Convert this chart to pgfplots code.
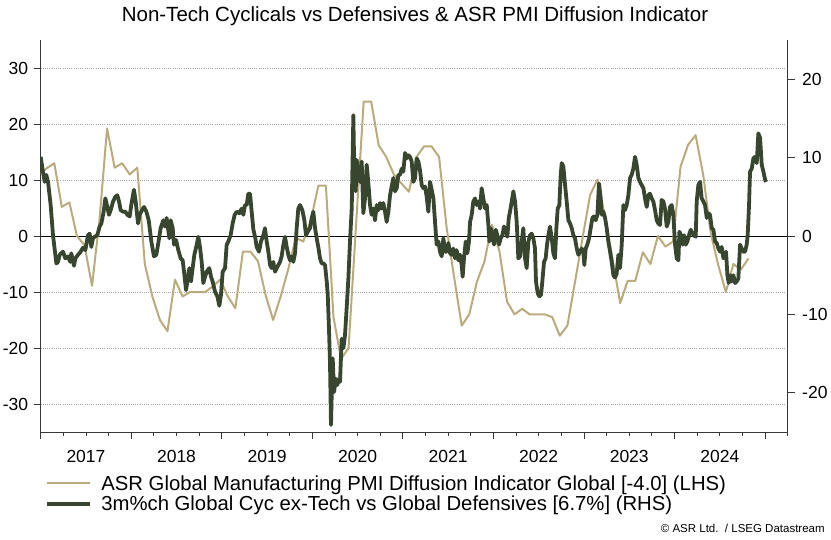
\documentclass[border=0pt]{standalone}
\usepackage{fontspec}
\setmainfont{Liberation Sans}
\usepackage{pgfplots}
\pgfplotsset{compat=1.18}
\definecolor{tanc}{RGB}{186,170,124}
\definecolor{darkc}{RGB}{56,70,48}
\definecolor{axc}{RGB}{55,55,55}
\definecolor{gridc}{RGB}{165,165,165}
\begin{document}
\begin{tikzpicture}
\path[use as bounding box] (-40.7pt,-107pt) rectangle (790.3pt,432pt);
\begin{axis}[
  at={(0pt,0pt)}, anchor=south west,
  scale only axis, width=747pt, height=392pt,
  xmin=2017, xmax=2025.25, ymin=-35, ymax=35,
  axis x line*=bottom, axis y line*=left,
  axis line style={axc, line width=0.9pt, -},
  tick align=outside, major tick length=7pt, minor tick length=4pt,
  tick style={axc, line width=0.8pt},
  xtick={2017,2018,...,2025}, xticklabels={},
  minor xtick={2017.25,2017.5,...,2025.25},
  extra x ticks={2017.5,2018.5,2019.5,2020.5,2021.5,2022.5,2023.5,2024.5},
  extra x tick labels={2017,2018,2019,2020,2021,2022,2023,2024},
  extra x tick style={major tick length=0pt, xticklabel style={yshift=-15pt}},
  ytick={-30,-20,...,30},
  ymajorgrids, grid style={gridc, dash pattern=on 1pt off 1.2pt, line width=0.7pt},
  ticklabel style={font=\fontsize{17.5}{20}\selectfont},
  /pgf/number format/assume math mode=true,
  yticklabel style={xshift=-2pt},
  legend style={at={(0.006,-0.105)}, anchor=north west, draw=none, fill=none,
    font=\fontsize{20.3}{22}\selectfont, inner sep=0pt, row sep=0pt, column sep=7pt,
    cells={anchor=west}},
  legend image code/.code={\draw[#1] (0pt,0pt) -- (43pt,0pt);},
  clip=true,
]
\draw[black, line width=0.9pt] (axis cs:2017,0) -- (axis cs:2025.25,0);
\addplot[tanc, line width=2pt, line join=round] coordinates {
(2017.000,11.2) (2017.067,12.1) (2017.150,13.0) (2017.233,5.2) (2017.317,6.0)
(2017.400,0.0) (2017.483,-1.6) (2017.567,-8.9) (2017.650,3.0) (2017.733,19.2)
(2017.817,12.2) (2017.900,13.0) (2017.983,11.0) (2018.067,12.2) (2018.150,-5.0)
(2018.233,-10.8) (2018.317,-15.0) (2018.400,-17.0) (2018.483,-7.8) (2018.567,-10.8)
(2018.650,-10.0) (2018.733,-10.0) (2018.817,-10.0) (2018.900,-9.0) (2018.983,-7.8)
(2019.067,-10.8) (2019.150,-12.9) (2019.233,-2.8) (2019.317,-2.8) (2019.400,-4.5)
(2019.483,-10.5) (2019.567,-15.0) (2019.650,-10.8) (2019.733,-6.0) (2019.817,-0.3)
(2019.900,-1.0) (2019.983,2.8) (2020.067,9.0) (2020.150,9.0) (2020.233,-14.4)
(2020.317,-22.0) (2020.400,-20.0) (2020.483,2.0) (2020.567,24.0) (2020.650,24.0)
(2020.733,16.2) (2020.817,14.1) (2020.900,11.0) (2020.983,9.4) (2021.067,7.9)
(2021.150,14.1) (2021.233,16.0) (2021.317,16.0) (2021.400,14.1) (2021.483,1.5)
(2021.567,-7.5) (2021.650,-16.0) (2021.733,-14.0) (2021.817,-8.2) (2021.900,-4.6)
(2021.983,2.0) (2022.067,-2.8) (2022.150,-11.7) (2022.233,-14.0) (2022.317,-13.0)
(2022.400,-14.0) (2022.483,-14.0) (2022.567,-14.0) (2022.650,-14.5) (2022.733,-17.8)
(2022.817,-16.0) (2022.900,-8.3) (2022.983,-0.5) (2023.067,7.3) (2023.150,10.1)
(2023.233,3.4) (2023.317,-4.2) (2023.400,-12.0) (2023.483,-8.0) (2023.567,-8.0)
(2023.650,-2.9) (2023.733,-5.0) (2023.817,0.0) (2023.900,-1.9) (2023.983,-1.0)
(2024.067,12.4) (2024.150,16.3) (2024.233,18.0) (2024.317,10.9) (2024.400,0.5)
(2024.483,-5.2) (2024.567,-10.0) (2024.650,-5.0) (2024.733,-6.0) (2024.817,-4.0)
};
\addlegendentry{ASR Global Manufacturing PMI Diffusion Indicator Global [-4.0] (LHS)}
\addlegendimage{darkc, line width=4pt}
\addlegendentry{3m\%ch Global Cyc ex-Tech vs Global Defensives [6.7\%] (RHS)}
\end{axis}
\begin{axis}[
  at={(0pt,0pt)}, anchor=south west,
  scale only axis, width=747pt, height=392pt,
  xmin=2017, xmax=2025.25, ymin=-25, ymax=25,
  axis y line*=right, axis x line=none,
  axis line style={axc, line width=0.9pt, -},
  tick align=outside, major tick length=7pt,
  tick style={axc, line width=0.8pt},
  ytick={-20,-10,...,20},
  ticklabel style={font=\fontsize{17.5}{20}\selectfont},
  /pgf/number format/assume math mode=true,
  yticklabel style={xshift=4pt},
]
\addplot[darkc, line width=3.8pt, line join=round] coordinates {
(2017.000,10.1) (2017.025,8.2) (2017.044,6.9) (2017.062,7.8) (2017.081,6.9)
(2017.110,3.95) (2017.136,0.1) (2017.173,-3.5) (2017.191,-3.3) (2017.210,-2.4)
(2017.246,-2.0) (2017.272,-2.85) (2017.300,-2.6) (2017.327,-3.3) (2017.338,-2.2)
(2017.368,-3.8) (2017.382,-2.85) (2017.412,-2.4) (2017.441,-2.0) (2017.467,-1.5)
(2017.493,-1.8) (2017.522,0.1) (2017.541,0.3) (2017.559,-1.4) (2017.578,-0.3)
(2017.596,-0.1) (2017.625,0.1) (2017.651,1.2) (2017.670,1.6) (2017.695,3.1)
(2017.714,4.8) (2017.736,3.7) (2017.754,2.7) (2017.773,3.3) (2017.799,4.4)
(2017.824,5.0) (2017.846,5.2) (2017.865,4.4) (2017.883,3.3) (2017.909,3.1)
(2017.935,3.1) (2017.957,2.7) (2017.983,2.5) (2018.000,3.95) (2018.030,5.9)
(2018.049,4.4) (2018.075,1.6) (2018.093,2.7) (2018.119,3.3) (2018.141,3.7)
(2018.167,3.1) (2018.193,2.0) (2018.222,-0.7) (2018.251,-2.6) (2018.277,-2.4)
(2018.296,-1.1) (2018.325,1.0) (2018.354,2.0) (2018.373,1.2) (2018.391,2.3)
(2018.421,-0.3) (2018.436,2.0) (2018.458,1.0) (2018.472,-1.1) (2018.494,-0.5)
(2018.520,-1.8) (2018.546,-2.85) (2018.568,-3.1) (2018.583,-4.55) (2018.605,-6.9)
(2018.623,-5.6) (2018.642,-4.1) (2018.660,-5.8) (2018.678,-4.1) (2018.697,-2.4)
(2018.723,-1.1) (2018.741,-0.1) (2018.759,-1.4) (2018.778,-3.3) (2018.796,-6.0)
(2018.815,-5.2) (2018.833,-4.55) (2018.862,-4.1) (2018.881,-5.2) (2018.899,-5.8)
(2018.925,-7.1) (2018.951,-7.7) (2018.973,-8.9) (2018.991,-7.5) (2019.010,-4.55)
(2019.036,-4.1) (2019.054,-1.1) (2019.072,-0.7) (2019.098,0.1) (2019.120,1.6)
(2019.142,2.7) (2019.165,3.1) (2019.194,2.9) (2019.220,3.5) (2019.238,2.7)
(2019.256,3.95) (2019.275,3.95) (2019.293,5.4) (2019.312,5.4) (2019.330,3.1)
(2019.349,0.8) (2019.371,-0.3) (2019.385,-1.4) (2019.411,-2.0) (2019.433,-0.7)
(2019.459,0.1) (2019.477,1.0) (2019.496,-0.7) (2019.514,-2.0) (2019.533,-3.7)
(2019.551,-4.1) (2019.569,-3.3) (2019.588,-4.55) (2019.606,-4.1) (2019.625,-3.7)
(2019.643,-3.3) (2019.661,-2.6) (2019.680,-1.1) (2019.698,-0.1) (2019.717,-1.4)
(2019.735,-2.4) (2019.753,-3.1) (2019.772,-2.6) (2019.790,-3.3) (2019.809,-2.2)
(2019.827,1.0) (2019.845,3.5) (2019.864,3.95) (2019.890,3.3) (2019.912,2.0)
(2019.930,0.1) (2019.949,0.55) (2019.974,1.0) (2019.993,2.3) (2020.011,3.1)
(2020.030,1.0) (2020.048,-0.3) (2020.066,-1.4) (2020.085,-2.85) (2020.103,-3.5)
(2020.122,-3.5) (2020.140,-3.7) (2020.159,-5.8) (2020.170,-7.5) (2020.184,-11.9)
(2020.195,-16.1) (2020.206,-24.1) (2020.214,-20.3) (2020.225,-15.6) (2020.240,-19.9)
(2020.258,-18.2) (2020.276,-19.0) (2020.295,-18.2) (2020.306,-18.6) (2020.324,-13.1)
(2020.343,-14.3) (2020.361,-12.6) (2020.379,-9.2) (2020.398,-5.4) (2020.416,-0.7)
(2020.435,3.5) (2020.453,15.4) (2020.464,7.4) (2020.479,5.7) (2020.490,9.7)
(2020.508,7.8) (2020.527,6.9) (2020.545,9.5) (2020.563,2.9) (2020.582,4.8)
(2020.600,9.1) (2020.611,7.8) (2020.626,5.7) (2020.637,3.95) (2020.655,2.7)
(2020.674,3.5) (2020.692,2.0) (2020.711,3.95) (2020.729,3.3) (2020.748,4.2)
(2020.766,3.5) (2020.784,4.2) (2020.803,3.1) (2020.821,1.8) (2020.840,3.1)
(2020.858,5.2) (2020.876,6.3) (2020.895,7.4) (2020.913,5.7) (2020.932,6.1)
(2020.950,7.8) (2020.969,7.8) (2020.987,8.6) (2021.005,8.2) (2021.024,10.6)
(2021.042,9.9) (2021.060,10.3) (2021.079,10.1) (2021.097,9.5) (2021.116,6.9)
(2021.134,7.4) (2021.153,9.9) (2021.171,9.5) (2021.189,8.4) (2021.208,6.5)
(2021.226,6.1) (2021.245,6.3) (2021.263,5.0) (2021.281,3.1) (2021.300,6.9)
(2021.318,5.9) (2021.337,4.8) (2021.355,1.8) (2021.373,-1.1) (2021.392,-0.7)
(2021.410,-2.0) (2021.429,-2.6) (2021.447,-0.3) (2021.465,-2.0) (2021.484,-2.0)
(2021.502,-0.9) (2021.521,-2.2) (2021.539,-2.4) (2021.557,-1.6) (2021.576,-2.85)
(2021.594,-1.8) (2021.613,-3.1) (2021.631,-2.4) (2021.649,-3.7) (2021.660,-5.2)
(2021.675,-2.85) (2021.694,-0.7) (2021.712,-2.2) (2021.730,-0.7) (2021.742,1.8)
(2021.760,2.7) (2021.778,4.4) (2021.797,4.8) (2021.815,3.95) (2021.834,4.4)
(2021.852,3.5) (2021.870,6.1) (2021.889,4.8) (2021.907,3.5) (2021.926,3.95)
(2021.944,1.4) (2021.955,-0.7) (2021.970,1.0) (2021.988,0.1) (2022.007,-1.1)
(2022.025,0.8) (2022.043,0.1) (2022.062,-1.1) (2022.080,-0.3) (2022.099,0.1)
(2022.117,1.2) (2022.136,0.8) (2022.154,-0.1) (2022.169,2.3) (2022.183,3.1)
(2022.202,4.4) (2022.220,5.7) (2022.239,4.4) (2022.257,1.8) (2022.275,-2.85)
(2022.294,-2.6) (2022.312,-0.7) (2022.330,1.0) (2022.349,-2.85) (2022.367,-4.1)
(2022.386,-0.7) (2022.404,0.1) (2022.423,0.3) (2022.441,-0.3) (2022.459,-1.6)
(2022.470,-5.8) (2022.489,-7.3) (2022.507,-7.7) (2022.526,-7.5) (2022.540,-5.8)
(2022.559,-3.3) (2022.577,-2.85) (2022.592,-1.1) (2022.607,0.1) (2022.625,1.2)
(2022.644,-0.3) (2022.662,-2.2) (2022.680,-2.85) (2022.695,1.0) (2022.710,3.5)
(2022.728,3.95) (2022.743,7.8) (2022.754,9.3) (2022.772,8.9) (2022.791,6.5)
(2022.809,4.4) (2022.828,2.0) (2022.846,1.6) (2022.865,1.0) (2022.883,0.1)
(2022.901,-0.3) (2022.920,-1.6) (2022.938,-2.4) (2022.956,-2.0) (2022.975,-1.6)
(2022.993,-2.0) (2023.004,-3.7) (2023.019,-1.6) (2023.037,-1.1) (2023.056,-0.3)
(2023.074,1.0) (2023.093,2.3) (2023.111,2.5) (2023.129,2.0) (2023.148,2.7)
(2023.166,6.7) (2023.185,4.8) (2023.196,2.7) (2023.214,3.1) (2023.233,2.3)
(2023.251,1.0) (2023.269,-0.7) (2023.288,-2.0) (2023.306,-3.3) (2023.325,-5.0)
(2023.343,-5.3) (2023.361,-4.8) (2023.380,-2.4) (2023.398,-4.1) (2023.417,-1.1)
(2023.435,3.95) (2023.453,3.3) (2023.472,3.95) (2023.490,5.2) (2023.509,7.4)
(2023.527,7.8) (2023.545,8.6) (2023.564,10.1) (2023.582,9.1) (2023.601,7.4)
(2023.619,6.9) (2023.637,6.5) (2023.656,6.1) (2023.674,4.8) (2023.693,3.7)
(2023.711,5.2) (2023.729,5.4) (2023.748,4.8) (2023.766,4.4) (2023.785,3.3)
(2023.803,2.0) (2023.821,1.6) (2023.840,1.4) (2023.858,4.6) (2023.877,4.4)
(2023.895,3.5) (2023.914,1.2) (2023.932,1.8) (2023.950,3.7) (2023.969,3.95)
(2023.987,2.7) (2024.006,-1.1) (2024.024,-2.85) (2024.043,-3.1) (2024.054,0.55)
(2024.072,0.1) (2024.090,-1.1) (2024.105,0.1) (2024.124,-1.1) (2024.142,-0.7)
(2024.160,0.1) (2024.179,0.8) (2024.197,0.3) (2024.216,0.1) (2024.234,-0.1)
(2024.245,4.4) (2024.263,6.5) (2024.282,6.9) (2024.300,4.8) (2024.319,4.4)
(2024.337,3.95) (2024.356,2.3) (2024.374,2.9) (2024.392,2.7) (2024.411,1.0)
(2024.429,0.8) (2024.448,-0.7) (2024.466,-0.9) (2024.484,-1.6) (2024.503,-2.0)
(2024.521,-1.4) (2024.540,-2.85) (2024.558,-2.4) (2024.569,-2.0) (2024.584,-5.0)
(2024.598,-6.0) (2024.614,-5.0) (2024.632,-5.8) (2024.650,-5.0) (2024.669,-6.0)
(2024.687,-5.8) (2024.705,-5.4) (2024.724,-1.1) (2024.742,-1.6) (2024.761,-2.0)
(2024.779,-2.0) (2024.797,-1.1) (2024.808,0.1) (2024.823,3.95) (2024.834,8.2)
(2024.853,8.6) (2024.871,9.9) (2024.889,10.1) (2024.908,9.3) (2024.926,13.1)
(2024.945,12.5) (2024.963,9.1) (2024.982,8.2) (2025.000,7.2) (2025.011,6.9)
};
\end{axis}
\node[font=\fontsize{20.5}{24}\selectfont, anchor=base] at (374.3pt,410.3pt)
  {Non-Tech Cyclicals vs Defensives \& ASR PMI Diffusion Indicator};
\node[font=\fontsize{11.5}{13}\selectfont, anchor=base east] at (787.5pt,-100pt)
  {\textcopyright\ ASR Ltd.\ \ /\ LSEG Datastream};
\end{tikzpicture}
\end{document}
